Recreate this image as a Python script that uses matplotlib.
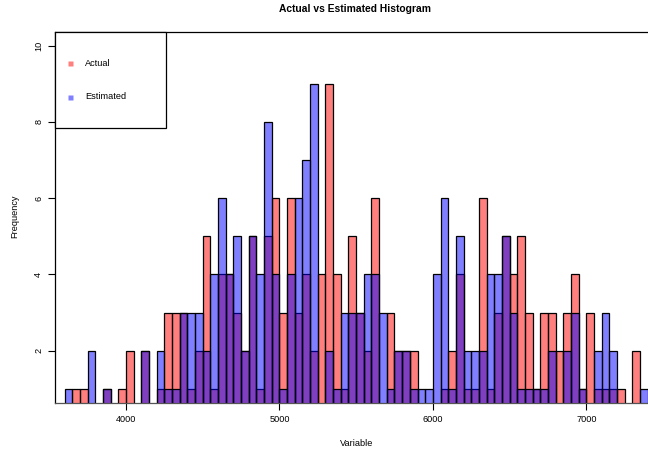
import numpy as np
import matplotlib
matplotlib.use("Agg")
import matplotlib.pyplot as plt
from matplotlib.patches import Rectangle
from matplotlib.lines import Line2D

plt.rcParams['font.family'] = ['Liberation Sans', 'DejaVu Sans']

# ---- data (histogram counts per 50-unit bin) ----
bin_width = 50
bin_starts = np.arange(3600, 7400, bin_width)
actual_counts = [0, 1, 1, 0, 0, 1, 0, 1, 2, 0,
                 2, 0, 1, 3, 3, 3, 1, 2, 5, 1,
                 4, 4, 3, 2, 5, 1, 5, 6, 3, 6,
                 3, 4, 2, 4, 9, 4, 1, 5, 3, 2,
                 6, 0, 3, 2, 2, 2, 0, 0, 0, 1,
                 2, 4, 1, 1, 6, 1, 3, 5, 4, 5,
                 3, 1, 3, 3, 2, 3, 4, 1, 3, 1,
                 1, 1, 1, 0, 2, 0]
estimated_counts = [1, 0, 0, 2, 0, 1, 0, 0, 0, 0,
                    2, 0, 2, 1, 1, 3, 3, 3, 2, 4,
                    6, 4, 5, 2, 5, 4, 8, 4, 1, 4,
                    6, 7, 9, 0, 2, 1, 3, 3, 3, 4,
                    4, 3, 1, 2, 2, 1, 1, 1, 4, 6,
                    1, 5, 2, 2, 2, 4, 4, 5, 3, 1,
                    1, 1, 1, 2, 0, 2, 3, 1, 0, 2,
                    3, 2, 0, 0, 0, 1]
x_ticks = [4000, 5000, 6000, 7000]
y_ticks = [2, 4, 6, 8, 10]
series_labels = ["Actual", "Estimated"]
series_colors = [(1, 0, 0, 0.5), (0, 0, 1, 0.5)]

W, H = 648, 451
fig = plt.figure(figsize=(W / 100, H / 100), dpi=100)

def fx(px):
    return px / W

def fy(py):
    return 1 - py / H

left_px, right_px, top_px, bottom_px = 55, 648, 32, 402.6
ax = fig.add_axes([fx(left_px), fy(bottom_px), fx(right_px) - fx(left_px), fy(top_px) - fy(bottom_px)])

ax.bar(bin_starts, actual_counts, width=bin_width, align='edge',
       facecolor=series_colors[0], edgecolor='black', linewidth=0.9)
ax.bar(bin_starts, estimated_counts, width=bin_width, align='edge',
       facecolor=series_colors[1], edgecolor='black', linewidth=0.9)

ax.set_xlim(3537.3, 7402.2)
ax.set_ylim(0.64, 10.36)
ax.set_xticks(x_ticks)
ax.set_yticks(y_ticks)
ax.tick_params(axis='both', direction='out', length=5, width=0.8, labelsize=6.6, color='black')
ax.tick_params(axis='y', labelrotation=90, pad=3.5)
ax.tick_params(axis='x', pad=4)
for lab in ax.get_yticklabels():
    lab.set_va('center')

ax.spines['right'].set_visible(False)
for s in ['left', 'top', 'bottom']:
    ax.spines[s].set_linewidth(0.9)
    ax.spines[s].set_color('black')
ax.spines['bottom'].set_color('#555555')

fig.text(fx(355), fy(9.5), "Actual vs Estimated Histogram", ha='center', va='center',
         fontsize=7.4, fontweight='bold')
fig.text(fx(357), fy(443), "Variable", ha='center', va='center', fontsize=6.6)
fig.text(fx(15), fy(216), "Frequency", ha='center', va='center', fontsize=6.6, rotation=90)

# legend (manual, R style)
fig.patches.append(Rectangle((fx(55.3), fy(127.7)), fx(165.7) - fx(55.3), fy(31.7) - fy(127.7),
                             transform=fig.transFigure, facecolor='white', edgecolor='black',
                             linewidth=0.9, zorder=5))
for lab, col, py in zip(series_labels, series_colors, [63.3, 96.7]):
    fig.lines.append(Line2D([fx(70.3)], [fy(py)], transform=fig.transFigure, marker='s',
                            markersize=3.6, markerfacecolor=col, markeredgecolor='none',
                            linestyle='none', zorder=6))
    fig.text(fx(85), fy(py), lab, ha='left', va='center', fontsize=6.6, zorder=6)

fig.savefig("out.png", dpi=100)
